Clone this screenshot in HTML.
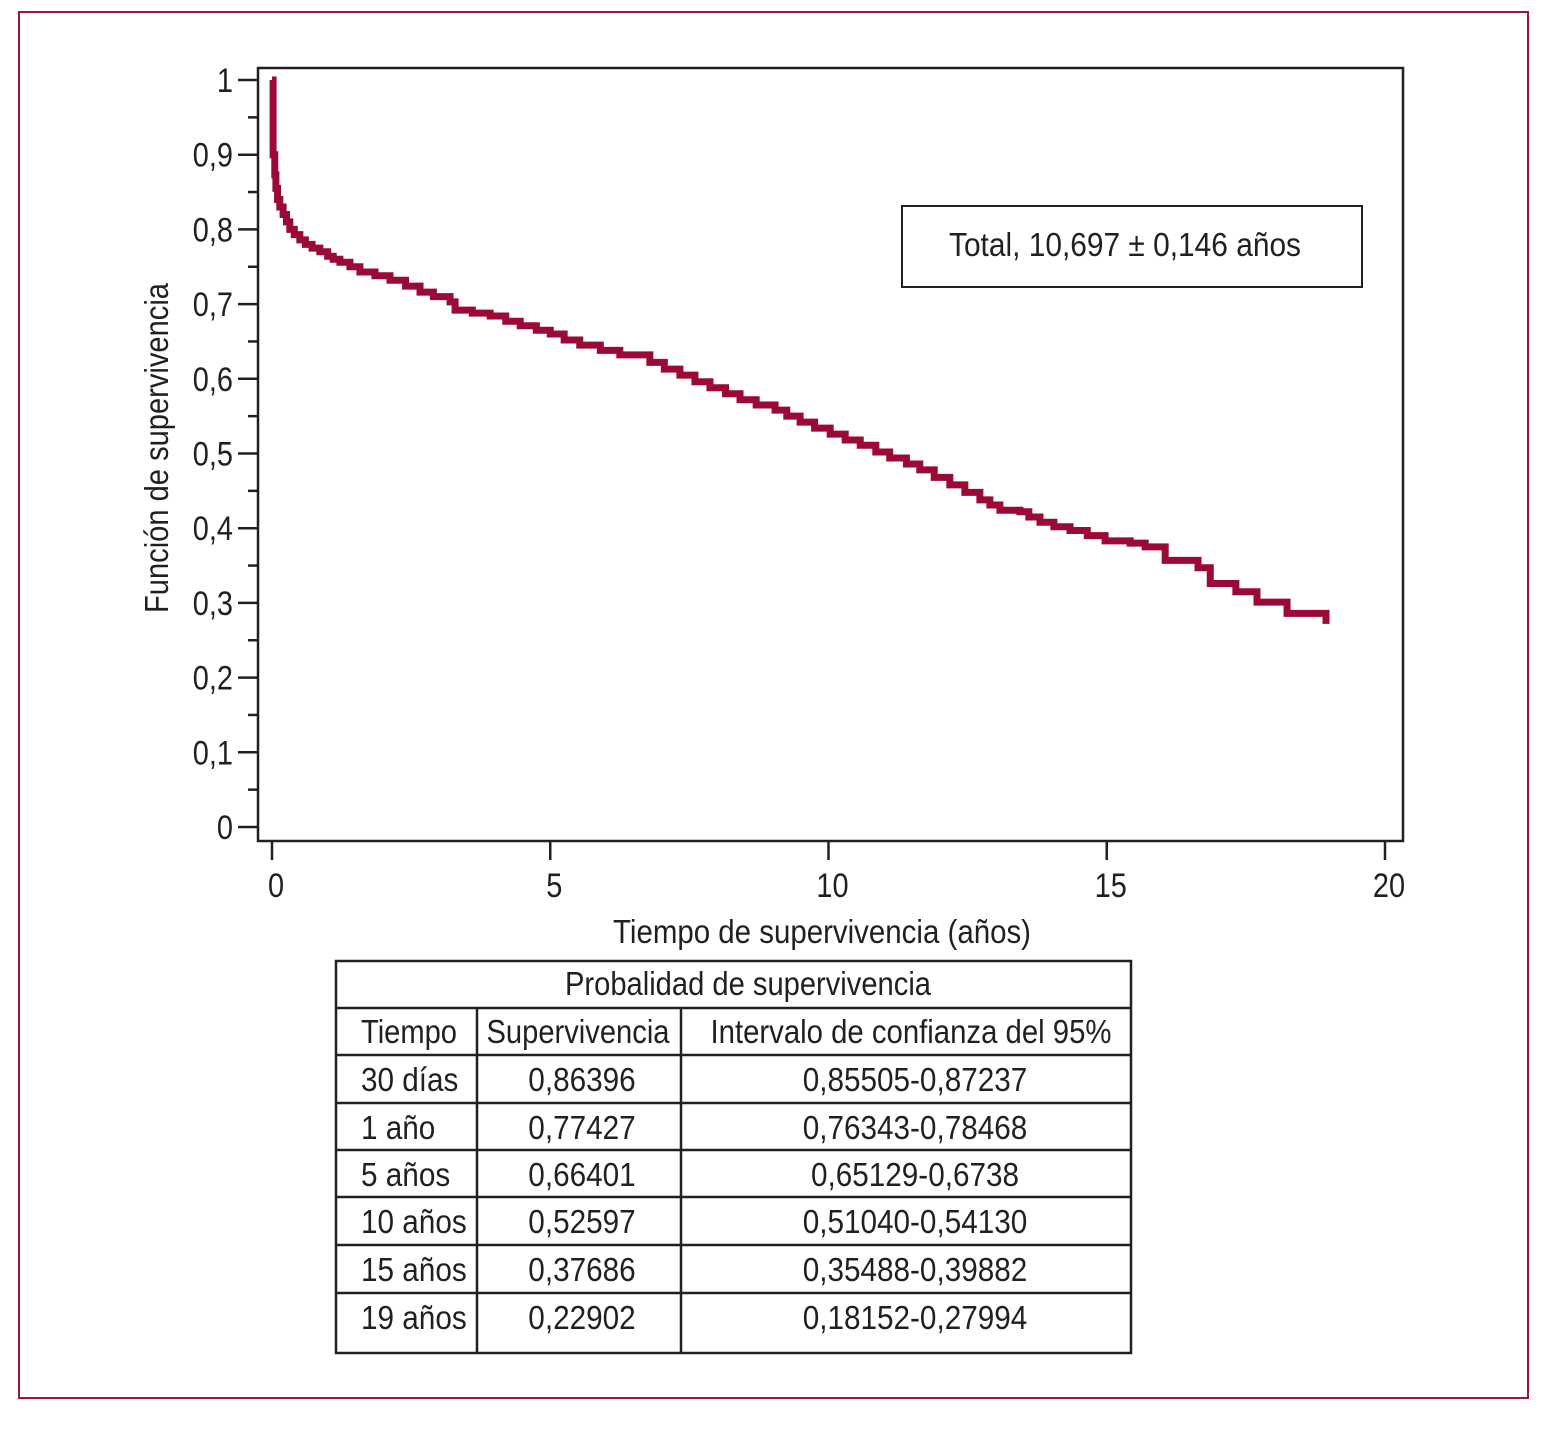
<!DOCTYPE html>
<html><head><meta charset="utf-8"><style>
html,body{margin:0;padding:0;background:#fff;}
svg text{font-family:"Liberation Sans Narrow","Liberation Sans",sans-serif;fill:#231f20;}
</style></head><body>
<svg id="chart" width="1545" height="1425" viewBox="0 0 1545 1425" xmlns="http://www.w3.org/2000/svg">
<rect x="19" y="12" width="1509" height="1386" fill="none" stroke="#a0134a" stroke-width="2"/>
<rect x="258" y="68" width="1145" height="773" fill="none" stroke="#231f20" stroke-width="2.5"/>
<g id="yticks"></g>
<g id="xticks"></g>
<text transform="translate(168,448) rotate(-90)" text-anchor="middle" font-size="33" textLength="330" lengthAdjust="spacingAndGlyphs">Función de supervivencia</text>
<text x="822" y="943" text-anchor="middle" font-size="33" textLength="418" lengthAdjust="spacingAndGlyphs">Tiempo de supervivencia (años)</text>
<path id="curve" fill="none" stroke="#9b0a36" stroke-width="7" stroke-linejoin="miter"/>
<g>
<rect x="902" y="206" width="460" height="81" fill="#fff" stroke="#231f20" stroke-width="2"/>
<text x="1125" y="256" text-anchor="middle" font-size="33" textLength="352" lengthAdjust="spacingAndGlyphs">Total, 10,697 ± 0,146 años</text>
</g>
<g stroke="#231f20" stroke-width="2.5">
<rect x="336" y="961" width="795" height="392" fill="none"/>
<line x1="336" y1="1008" x2="1131" y2="1008"/>
<line x1="336" y1="1055" x2="1131" y2="1055"/>
<line x1="336" y1="1103" x2="1131" y2="1103"/>
<line x1="336" y1="1150" x2="1131" y2="1150"/>
<line x1="336" y1="1197" x2="1131" y2="1197"/>
<line x1="336" y1="1245" x2="1131" y2="1245"/>
<line x1="336" y1="1293" x2="1131" y2="1293"/>
<line x1="477" y1="1008" x2="477" y2="1353"/>
<line x1="681" y1="1008" x2="681" y2="1353"/>
</g>
<g font-size="33">
<text x="748" y="995" text-anchor="middle" textLength="366" lengthAdjust="spacingAndGlyphs">Probalidad de supervivencia</text>
<text x="361" y="1043" textLength="96" lengthAdjust="spacingAndGlyphs">Tiempo</text>
<text x="578" y="1043" text-anchor="middle" textLength="183" lengthAdjust="spacingAndGlyphs">Supervivencia</text>
<text x="911" y="1043" text-anchor="middle" textLength="401" lengthAdjust="spacingAndGlyphs">Intervalo de confianza del 95%</text>
</g>
<g id="rows" font-size="33"></g>
</svg>
<script>
const yTicks = [0,0.1,0.2,0.3,0.4,0.5,0.6,0.7,0.8,0.9,1];
const yLabels = ["0","0,1","0,2","0,3","0,4","0,5","0,6","0,7","0,8","0,9","1"];
const xTicks = [0,5,10,15,20];
const xLabels = ["0","5","10","15","20"];
const times = [0,0.02,0.05,0.07,0.1,0.14,0.2,0.26,0.32,0.4,0.5,0.6,0.72,0.86,1.0,1.1,1.22,1.4,1.58,1.85,2.12,2.4,2.66,2.9,3.2,3.29,3.6,3.92,4.2,4.46,4.75,5.0,5.25,5.53,5.9,6.25,6.79,7.05,7.33,7.6,7.87,8.15,8.41,8.7,9.04,9.25,9.49,9.75,10.03,10.3,10.57,10.85,11.1,11.4,11.64,11.9,12.18,12.45,12.72,12.9,13.08,13.44,13.6,13.8,14.05,14.34,14.65,14.97,15.42,15.69,16.05,16.64,16.86,17.32,17.7,18.24,18.94];
const surv = [1.0,0.90,0.873,0.855,0.84,0.83,0.82,0.81,0.80,0.793,0.786,0.78,0.775,0.77,0.764,0.76,0.756,0.75,0.743,0.738,0.732,0.724,0.716,0.71,0.703,0.692,0.688,0.684,0.677,0.671,0.665,0.66,0.652,0.645,0.638,0.632,0.622,0.613,0.605,0.596,0.588,0.58,0.572,0.565,0.558,0.55,0.542,0.534,0.526,0.518,0.511,0.502,0.494,0.486,0.478,0.468,0.458,0.448,0.438,0.431,0.424,0.422,0.415,0.408,0.402,0.397,0.39,0.383,0.380,0.375,0.357,0.347,0.326,0.315,0.301,0.286,0.272];
const rowTimes = ["30 días","1 año","5 años","10 años","15 años","19 años"];
const rowSurv = ["0,86396","0,77427","0,66401","0,52597","0,37686","0,22902"];
const rowCI = ["0,85505-0,87237","0,76343-0,78468","0,65129-0,6738","0,51040-0,54130","0,35488-0,39882","0,18152-0,27994"];

const NS="http://www.w3.org/2000/svg";
const X = t => 272 + t*55.65;
const Y = s => 827 - s*747;
function mk(tag, attrs, parent){const e=document.createElementNS(NS,tag);for(const k in attrs)e.setAttribute(k,attrs[k]);parent.appendChild(e);return e;}
const yg=document.getElementById('yticks');
yTicks.forEach((v,i)=>{
  const l=mk('line',{x1:238,x2:258,y1:Y(v),y2:Y(v),stroke:'#231f20','stroke-width':2.5},yg);
  
  
  if(i<yTicks.length-1){
    const m=mk('line',{x1:248,x2:258,y1:Y(v+0.05),y2:Y(v+0.05),stroke:'#231f20','stroke-width':2.5},yg);
    
    
  }
  const t=mk('text',{x:233,y:Y(v)+12,'text-anchor':'end','font-size':34,'data-narrow':'0.85'},yg);
  t.textContent=yLabels[i];
  
  
});
const xg=document.getElementById('xticks');
xTicks.forEach((v,i)=>{
  const l=mk('line',{x1:X(v),x2:X(v),y1:841,y2:860,stroke:'#231f20','stroke-width':2.5},xg);
  
  
  const t=mk('text',{x:X(v)+4,y:897,'text-anchor':'middle','font-size':34,'data-narrow':'0.85'},xg);
  t.textContent=xLabels[i];
  
  
});
let d='M'+X(times[0])+','+Y(surv[0]);
for(let i=1;i<times.length;i++){d+=' H'+X(times[i])+' V'+Y(surv[i]);}
document.getElementById('curve').setAttribute('d',d);
const rg=document.getElementById('rows');
const rowTop=[1055,1103,1150,1197,1245,1293];
rowTimes.forEach((r,i)=>{
  const base=rowTop[i]+36;
  const a=mk('text',{x:361,y:base,'data-narrow':'0.9'},rg);a.textContent=r;
  
  
  const b=mk('text',{x:582,y:base,'text-anchor':'middle','data-narrow':'0.9'},rg);b.textContent=rowSurv[i];
  
  
  const c=mk('text',{x:915,y:base,'text-anchor':'middle','data-narrow':'0.9'},rg);c.textContent=rowCI[i];
  
  
});
document.querySelectorAll('text[data-narrow]').forEach(t=>{
  const w=t.getComputedTextLength();
  const f=parseFloat(t.getAttribute('data-narrow'));
  if(w>0){t.setAttribute('textLength',(w*f).toFixed(1));t.setAttribute('lengthAdjust','spacingAndGlyphs');}
});
</script>
</body></html>
